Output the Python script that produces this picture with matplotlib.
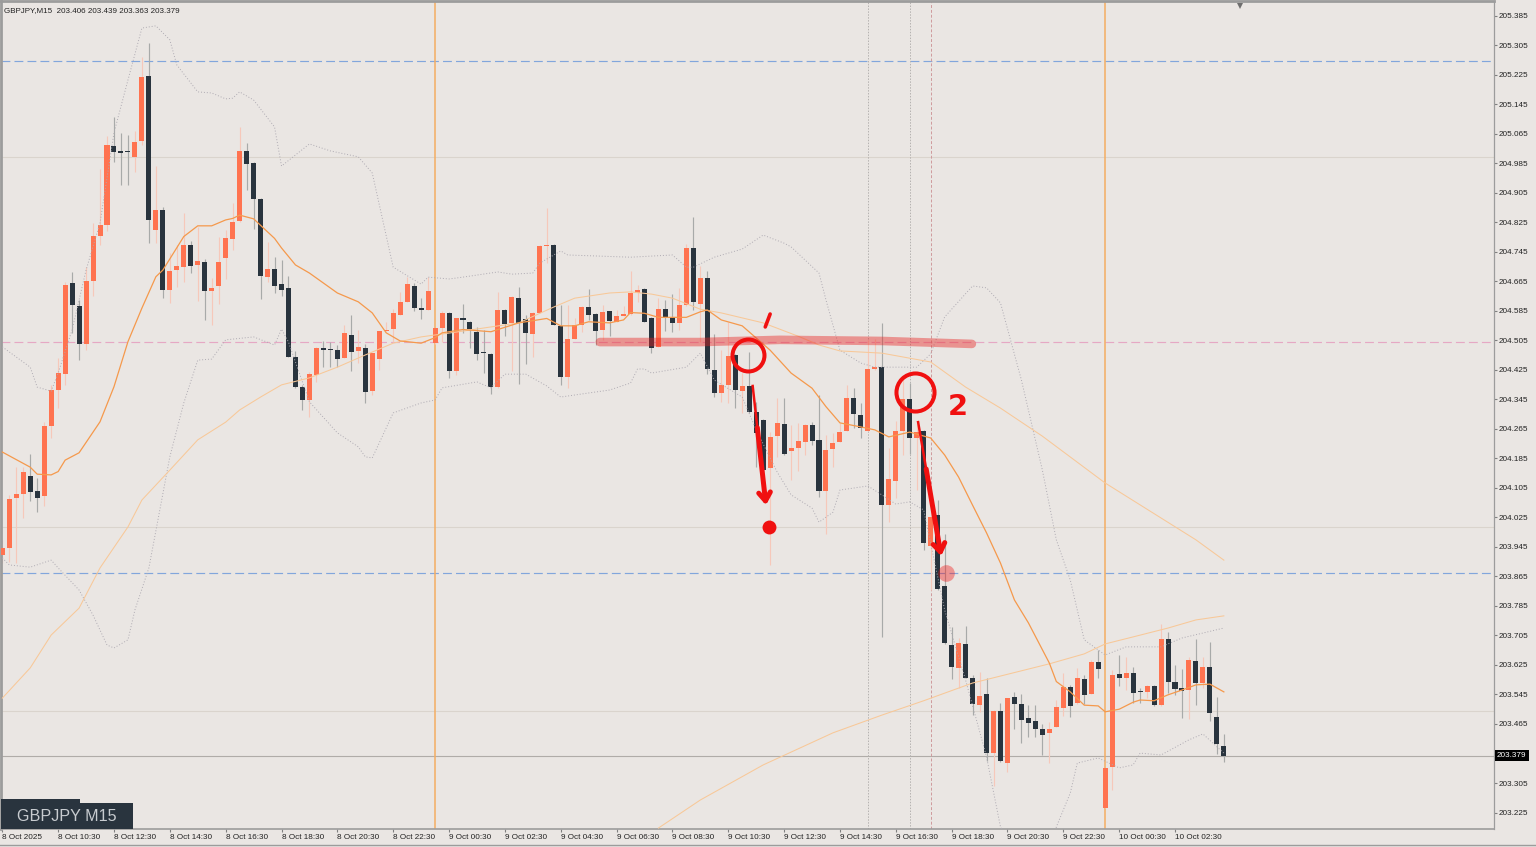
import matplotlib
matplotlib.use('Agg')
import matplotlib.pyplot as plt
from matplotlib.lines import Line2D
from matplotlib.patches import Rectangle

plt.rcParams['font.family'] = ['Liberation Sans', 'DejaVu Sans']

# candles, one entry per 15 minute bar
opens = [
    203.923, 203.941, 204.078, 204.087, 204.138, 204.096, 204.084, 204.273, 204.370, 204.413,
    204.659, 204.599, 204.496, 204.666, 204.788, 204.817, 205.032, 205.017, 205.019, 205.002,
    205.044, 205.220, 204.803, 204.859, 204.641, 204.696, 204.704, 204.763, 204.709, 204.717,
    204.638, 204.653, 204.729, 204.779, 204.829, 205.017, 204.986, 204.889, 204.677, 204.697,
    204.657, 204.646, 204.460, 204.379, 204.343, 204.411, 204.484, 204.480, 204.478, 204.456,
    204.520, 204.476, 204.485, 204.367, 204.453, 204.529, 204.535, 204.573, 204.608, 204.652,
    204.592, 204.587, 204.497, 204.538, 204.580, 204.421, 204.564, 204.554, 204.526, 204.474,
    204.467, 204.377, 204.587, 204.551, 204.619, 204.562, 204.521, 204.580, 204.760, 204.762,
    204.544, 204.406, 204.509, 204.546, 204.596, 204.575, 204.533, 204.583, 204.555, 204.571,
    204.576, 204.634, 204.644, 204.566, 204.487, 204.589, 204.569, 204.552, 204.600, 204.756,
    204.603, 204.674, 204.424, 204.363, 204.384, 204.465, 204.367, 204.382, 204.310, 204.289,
    204.158, 204.245, 204.277, 204.205, 204.212, 204.230, 204.276, 204.235, 204.097, 204.209,
    204.228, 204.260, 204.349, 204.302, 204.260, 204.428, 204.433, 204.058, 204.124, 204.259,
    204.346, 204.239, 204.259, 203.948, 204.031, 203.839, 203.679, 203.618, 203.683, 203.590,
    203.516, 203.547, 203.387, 203.499, 203.360, 203.538, 203.518, 203.482, 203.472, 203.451,
    203.440, 203.457, 203.509, 203.564, 203.521, 203.586, 203.546, 203.633, 203.238, 203.348,
    203.600, 203.590, 203.603, 203.554, 203.552, 203.569, 203.516, 203.695, 203.578, 203.562,
    203.556, 203.635, 203.575, 203.620, 203.485, 203.406,
]
highs = [
    203.964, 204.086, 204.162, 204.162, 204.196, 204.131, 204.284, 204.384, 204.456, 204.664,
    204.691, 204.614, 204.704, 204.822, 204.969, 205.058, 205.111, 205.067, 205.061, 205.072,
    205.272, 205.310, 204.977, 204.865, 204.741, 204.763, 204.849, 204.775, 204.813, 204.724,
    204.674, 204.784, 204.804, 204.876, 205.082, 205.039, 204.989, 204.890, 204.772, 204.730,
    204.722, 204.679, 204.477, 204.384, 204.420, 204.487, 204.504, 204.501, 204.492, 204.546,
    204.573, 204.533, 204.495, 204.471, 204.530, 204.555, 204.589, 204.636, 204.676, 204.659,
    204.619, 204.677, 204.538, 204.584, 204.582, 204.565, 204.603, 204.557, 204.540, 204.533,
    204.470, 204.636, 204.590, 204.625, 204.650, 204.573, 204.582, 204.763, 204.862, 204.766,
    204.600, 204.600, 204.564, 204.598, 204.644, 204.578, 204.600, 204.585, 204.587, 204.598,
    204.693, 204.655, 204.646, 204.568, 204.620, 204.614, 204.629, 204.646, 204.766, 204.840,
    204.707, 204.693, 204.521, 204.478, 204.555, 204.468, 204.415, 204.472, 204.338, 204.292,
    204.257, 204.348, 204.348, 204.275, 204.280, 204.278, 204.284, 204.357, 204.248, 204.253,
    204.281, 204.384, 204.375, 204.334, 204.506, 204.508, 204.552, 204.212, 204.287, 204.411,
    204.390, 204.286, 204.262, 204.045, 204.072, 203.980, 203.727, 203.699, 203.731, 203.598,
    203.607, 203.589, 203.502, 203.521, 203.535, 203.552, 203.545, 203.516, 203.516, 203.465,
    203.471, 203.530, 203.602, 203.571, 203.616, 203.598, 203.638, 203.666, 203.346, 203.611,
    203.652, 203.646, 203.619, 203.562, 203.571, 203.571, 203.736, 203.715, 203.625, 203.613,
    203.647, 203.695, 203.647, 203.686, 203.539, 203.439,
]
lows = [
    203.901, 203.905, 203.901, 204.022, 204.070, 204.039, 204.057, 204.239, 204.322, 204.384,
    204.525, 204.451, 204.478, 204.626, 204.763, 204.801, 204.989, 204.926, 204.926, 204.962,
    205.034, 204.769, 204.768, 204.619, 204.605, 204.648, 204.664, 204.686, 204.612, 204.560,
    204.546, 204.603, 204.670, 204.750, 204.825, 204.912, 204.806, 204.616, 204.662, 204.632,
    204.626, 204.459, 204.376, 204.316, 204.298, 204.393, 204.432, 204.433, 204.432, 204.456,
    204.422, 204.444, 204.336, 204.357, 204.424, 204.529, 204.501, 204.573, 204.608, 204.585,
    204.562, 204.587, 204.496, 204.501, 204.402, 204.411, 204.524, 204.483, 204.451, 204.417,
    204.359, 204.376, 204.517, 204.422, 204.386, 204.440, 204.459, 204.578, 204.713, 204.545,
    204.384, 204.375, 204.508, 204.528, 204.560, 204.492, 204.506, 204.516, 204.554, 204.571,
    204.573, 204.609, 204.554, 204.470, 204.487, 204.530, 204.528, 204.533, 204.599, 204.587,
    204.500, 204.413, 204.352, 204.338, 204.336, 204.321, 204.308, 204.309, 204.162, 204.149,
    203.896, 204.189, 204.195, 204.126, 204.151, 204.194, 204.221, 204.079, 203.980, 204.162,
    204.228, 204.259, 204.266, 204.239, 204.259, 204.424, 203.702, 204.013, 204.077, 204.194,
    204.197, 204.099, 203.937, 203.828, 203.828, 203.682, 203.586, 203.562, 203.590, 203.489,
    203.497, 203.365, 203.298, 203.363, 203.334, 203.451, 203.414, 203.431, 203.431, 203.381,
    203.358, 203.456, 203.487, 203.485, 203.519, 203.519, 203.545, 203.589, 203.237, 203.286,
    203.569, 203.557, 203.521, 203.521, 203.535, 203.515, 203.515, 203.548, 203.543, 203.480,
    203.478, 203.516, 203.562, 203.474, 203.384, 203.363,
]
closes = [
    203.942, 204.074, 204.088, 204.147, 204.094, 204.078, 204.272, 204.369, 204.415, 204.655,
    204.601, 204.496, 204.666, 204.788, 204.818, 205.033, 205.016, 205.013, 205.014, 205.041,
    205.218, 204.831, 204.859, 204.641, 204.693, 204.705, 204.763, 204.706, 204.719, 204.639,
    204.646, 204.716, 204.781, 204.825, 205.019, 204.982, 204.887, 204.679, 204.697, 204.653,
    204.641, 204.460, 204.379, 204.343, 204.413, 204.484, 204.478, 204.478, 204.455, 204.524,
    204.474, 204.487, 204.365, 204.470, 204.530, 204.533, 204.578, 204.608, 204.657, 204.592,
    204.587, 204.639, 204.537, 204.580, 204.421, 204.564, 204.560, 204.535, 204.467, 204.470,
    204.377, 204.587, 204.549, 204.621, 204.552, 204.525, 204.580, 204.761, 204.763, 204.546,
    204.406, 204.508, 204.546, 204.596, 204.574, 204.531, 204.581, 204.556, 204.571, 204.576,
    204.634, 204.641, 204.555, 204.485, 204.589, 204.567, 204.552, 204.600, 204.754, 204.608,
    204.673, 204.428, 204.363, 204.383, 204.462, 204.370, 204.382, 204.310, 204.254, 204.153,
    204.242, 204.280, 204.197, 204.214, 204.233, 204.276, 204.233, 204.097, 204.208, 204.226,
    204.257, 204.349, 204.304, 204.266, 204.426, 204.433, 204.058, 204.128, 204.259, 204.346,
    204.239, 204.257, 203.956, 204.027, 203.831, 203.684, 203.619, 203.684, 203.590, 203.519,
    203.542, 203.387, 203.500, 203.364, 203.535, 203.518, 203.477, 203.468, 203.452, 203.435,
    203.451, 203.510, 203.566, 203.514, 203.590, 203.544, 203.633, 203.615, 203.345, 203.599,
    203.590, 203.602, 203.550, 203.552, 203.569, 203.516, 203.696, 203.578, 203.561, 203.555,
    203.638, 203.575, 203.619, 203.495, 203.410, 203.379,
]

fast_bars = [0, 4, 5, 7, 8, 9, 11, 14, 16, 18, 20, 22, 23, 26, 28, 30, 32, 33, 34, 36, 39, 40, 42, 44,
             48, 51, 53, 55, 57, 59, 60, 62, 63, 66, 70, 74, 78, 80, 82, 84, 87, 89, 90, 92, 94, 98,
             100, 101, 103, 106, 110, 113, 116, 118, 120, 123, 125, 127, 130, 133, 135, 137, 139,
             141, 143, 145, 147, 150, 151, 153, 155, 157, 158, 160, 162, 163, 165, 167, 169, 171, 173, 175]
fast_ma = [204.202, 204.161, 204.142, 204.140, 204.149, 204.180, 204.200, 204.284, 204.379, 204.501,
           204.592, 204.677, 204.695, 204.786, 204.815, 204.815, 204.831, 204.835, 204.844, 204.834,
           204.781, 204.755, 204.709, 204.687, 204.633, 204.609, 204.579, 204.525, 204.503, 204.499,
           204.497, 204.512, 204.525, 204.534, 204.528, 204.552, 204.564, 204.544, 204.544, 204.555,
           204.552, 204.560, 204.580, 204.578, 204.567, 204.567, 204.582, 204.587, 204.560, 204.544,
           204.478, 204.416, 204.375, 204.325, 204.281, 204.270, 204.262, 204.243, 204.256, 204.240,
           204.194, 204.134, 204.058, 203.983, 203.901, 203.801, 203.739, 203.630, 203.580, 203.552,
           203.516, 203.514, 203.498, 203.505, 203.524, 203.530, 203.528, 203.544, 203.557, 203.571,
           203.573, 203.552]

slow_bars = [0, 4, 7, 11, 14, 18, 20, 24, 28, 32, 34, 37, 40, 44, 48, 52, 56, 60, 65, 70, 74, 79, 82, 87,
             90, 93, 96, 100, 103, 109, 114, 117, 120, 126, 133, 138, 143, 149, 158, 171, 175]
slow_ma = [203.535, 203.617, 203.706, 203.779, 203.888, 203.999, 204.072, 204.153, 204.235, 204.283,
           204.316, 204.351, 204.384, 204.403, 204.432, 204.465, 204.497, 204.514, 204.527, 204.541,
           204.552, 204.595, 204.619, 204.633, 204.636, 204.630, 204.619, 204.589, 204.579, 204.552,
           204.516, 204.492, 204.476, 204.470, 204.446, 204.378, 204.321, 204.245, 204.118, 203.964,
           203.909]

long_bars = [94, 100, 109, 119, 126, 132, 139, 150, 155, 158, 162, 167, 171, 175]
long_ma = [203.183, 203.259, 203.354, 203.441, 203.489, 203.528, 203.576, 203.628, 203.655, 203.682,
           203.701, 203.725, 203.747, 203.758]

# bollinger bands
upper_bars = [0, 4, 5, 7, 8, 10, 12, 14, 16, 18, 20, 22, 24, 25, 28, 30, 32, 33, 34, 36, 39, 40, 42, 44,
              47, 51, 53, 56, 60, 61, 64, 66, 71, 73, 76, 77, 80, 81, 90, 96, 98, 99, 102, 106, 109,
              112, 113, 117, 118, 120, 123, 125, 131, 133, 135, 139, 141, 143, 146, 149, 151, 153,
              155, 158, 161, 166, 169, 175]
upper_band = [204.487, 204.432, 204.378, 204.367, 204.416, 204.533, 204.695, 204.823, 205.067, 205.210,
              205.351, 205.357, 205.319, 205.251, 205.178, 205.175, 205.159, 205.161, 205.178, 205.156,
              205.083, 204.977, 205.007, 205.037, 205.018, 205.002, 204.958, 204.703, 204.657, 204.676,
              204.671, 204.676, 204.690, 204.684, 204.687, 204.714, 204.747, 204.736, 204.730, 204.736,
              204.703, 204.703, 204.730, 204.752, 204.790, 204.768, 204.758, 204.687, 204.614, 204.478,
              204.443, 204.432, 204.432, 204.468, 204.568, 204.652, 204.647, 204.606, 204.397, 204.153,
              203.964, 203.855, 203.693, 203.652, 203.674, 203.674, 203.698, 203.725]

lower_bars = [0, 1, 4, 7, 8, 11, 13, 15, 16, 18, 19, 21, 24, 26, 28, 30, 32, 36, 39, 40, 41, 44, 48, 51,
              52, 53, 56, 60, 62, 63, 68, 70, 72, 75, 78, 80, 84, 87, 90, 91, 92, 93, 98, 100, 102,
              106, 108, 111, 113, 116, 117, 119, 120, 124, 126, 128, 130, 132, 135, 138, 141, 143,
              147, 150, 151, 153, 154, 157, 160, 162, 163, 166, 170, 172, 175]
lower_band = [203.915, 203.896, 203.890, 203.909, 203.888, 203.828, 203.760, 203.679, 203.671, 203.693,
              203.774, 203.888, 204.189, 204.335, 204.451, 204.454, 204.506, 204.514, 204.492, 204.535,
              204.500, 204.338, 204.254, 204.216, 204.189, 204.186, 204.308, 204.335, 204.343, 204.376,
              204.392, 204.376, 204.413, 204.413, 204.381, 204.351, 204.362, 204.370, 204.389, 204.427,
              204.427, 204.416, 204.432, 204.470, 204.397, 204.351, 204.262, 204.148, 204.086, 204.050,
              204.012, 204.039, 204.099, 204.110, 204.086, 204.061, 204.067, 204.045, 203.774, 203.584,
              203.376, 203.186, 203.069, 203.069, 203.186, 203.278, 203.359, 203.373, 203.346, 203.354,
              203.386, 203.381, 203.422, 203.438, 203.386]

# axis labels
price_ticks = [205.385, 205.305, 205.225, 205.145, 205.065, 204.985, 204.905, 204.825, 204.745, 204.665,
               204.585, 204.505, 204.425, 204.345, 204.265, 204.185, 204.105, 204.025, 203.945, 203.865,
               203.785, 203.705, 203.625, 203.545, 203.465, 203.305, 203.225]
time_labels = ['8 Oct 2025', '8 Oct 10:30', '8 Oct 12:30', '8 Oct 14:30', '8 Oct 16:30', '8 Oct 18:30',
               '8 Oct 20:30', '8 Oct 22:30', '9 Oct 00:30', '9 Oct 02:30', '9 Oct 04:30', '9 Oct 06:30',
               '9 Oct 08:30', '9 Oct 10:30', '9 Oct 12:30', '9 Oct 14:30', '9 Oct 16:30', '9 Oct 18:30',
               '9 Oct 20:30', '9 Oct 22:30', '10 Oct 00:30', '10 Oct 02:30']

# levels and hand drawn marks
blue_levels = [205.263, 203.875]
grey_levels = [205.002, 204.000, 203.500]
pink_level = 204.500
last_price = 203.379
orange_bars = [62, 158]
dotted_bars = [124, 130]
session_bar = 133

band_bars = [85.6, 100, 111.4, 126, 138.9]
band_prices = [204.500, 204.500, 204.506, 204.503, 204.495]
circle_bars = [106.8, 130.8]
circle_prices = [204.465, 204.365]
circle_sizes = [23, 27.4]
arrow_starts = [(107.5, 204.381), (131.2, 204.283)]
arrow_ends = [(109.4, 204.058), (134.5, 203.920)]

BG = '#eae6e3'
UP = '#ff7350'
DOWN = '#29343e'
RED = '#f01010'
FRAME = '#9c9c9c'

fig = plt.figure(figsize=(15.36, 8.47), dpi=100, facecolor=BG)
ax = fig.add_axes([1 / 1536, 18 / 847, 1493 / 1536, 828 / 847], facecolor=BG)
ax.set_xlim(-0.186, 213.7)
ax.set_ylim(203.1804, 205.4243)

for level in blue_levels:
    ax.axhline(level, color='#82a6dc', lw=0.85, ls=(0, (7.5, 3.5)), zorder=1)
for level in grey_levels:
    ax.axhline(level, color='#dad4cd', lw=0.8, zorder=1)
ax.axhline(pink_level, color='#e6a8c4', lw=0.85, ls=(0, (7.5, 3.5)), zorder=1)
ax.axhline(last_price, color='#b0aca8', lw=0.8, zorder=1)
for bar in orange_bars:
    ax.axvline(bar, color='#f4ad62', lw=1.1, zorder=1)
for bar in dotted_bars:
    ax.axvline(bar, color='#b5b2b0', lw=0.7, ls=(0, (1.5, 1.5)), zorder=1)
ax.axvline(session_bar, color='#cf9a9c', lw=0.7, ls=(0, (3, 2)), zorder=1)

# candles
bars = list(range(len(opens)))
colors = [UP if c >= o else DOWN for o, c in zip(opens, closes)]
wick_colors = ['#f6c8ba' if c >= o else '#a8aaa9' for o, c in zip(opens, closes)]
ax.vlines(bars, lows, highs, colors=wick_colors, lw=0.85, zorder=2)
tops = [max(o, c) for o, c in zip(opens, closes)]
bottoms = [min(o, c) for o, c in zip(opens, closes)]
ax.bar(bars, [t - b for t, b in zip(tops, bottoms)], bottom=bottoms, width=0.72, color=colors, lw=0, zorder=3)

# indicators
ax.plot(upper_bars, upper_band, color='#aeaab2', lw=0.7, ls=(0, (1, 2)), zorder=4)
ax.plot(lower_bars, lower_band, color='#aeaab2', lw=0.7, ls=(0, (1, 2)), zorder=4)
ax.plot(slow_bars, slow_ma, color='#f8c898', lw=0.75, zorder=4)
ax.plot(long_bars, long_ma, color='#f8c898', lw=0.75, zorder=4)
ax.plot(fast_bars, fast_ma, color='#f5994c', lw=0.9, zorder=4)

# hand drawn marks
ax.plot(band_bars, band_prices, color='#e8201f', alpha=0.42, lw=6.2, solid_capstyle='round', zorder=5)
for bar, price, size in zip(circle_bars, circle_prices, circle_sizes):
    ax.plot(bar, price, 'o', mfc='none', mec=RED, mew=2.9, ms=size, zorder=6)
for start, end in zip(arrow_starts, arrow_ends):
    # the stroke starts thin and gets thicker towards the head
    middle = (start[0] + 0.35 * (end[0] - start[0]), start[1] + 0.35 * (end[1] - start[1]))
    ax.plot([start[0], middle[0]], [start[1], middle[1]], color=RED, lw=1.8, zorder=6)
    ax.annotate('', xy=end, xytext=middle, zorder=6,
                arrowprops=dict(arrowstyle='->,head_length=0.6,head_width=0.42', color=RED, lw=3.6,
                                shrinkA=0, shrinkB=0))
ax.plot([109.3, 110.0], [204.541, 204.576], color=RED, lw=2.6, solid_capstyle='round', zorder=6)
ax.plot(109.8, 204.000, 'o', color=RED, ms=10, mew=0, zorder=6)
ax.plot(135.2, 203.874, 'o', color=RED, alpha=0.38, ms=12, mew=0, zorder=6)
ax.text(135.4, 204.325, '2', color=RED, fontsize=21, fontweight='bold', family='DejaVu Sans',
        ha='left', va='center', zorder=6)

# axes
ax.yaxis.tick_right()
ax.set_yticks(price_ticks)
ax.set_yticklabels(['%.3f' % p for p in price_ticks], fontsize=5.9, color='#222222')
ax.tick_params(axis='y', length=2.5, width=0.8, color='#808080', pad=1)
ax.set_xticks(list(range(0, 176, 8)))
ax.set_xticklabels(time_labels, fontsize=5.9, color='#222222', ha='left')
ax.tick_params(axis='x', length=2, width=0.8, color='#808080', pad=1.5)
for side, width in [('left', 2), ('top', 2), ('bottom', 1.2), ('right', 0.9)]:
    ax.spines[side].set_color(FRAME)
    ax.spines[side].set_linewidth(width)
fig.add_artist(Line2D([0, 1], [2 / 847, 2 / 847], color=FRAME, lw=1))

ax.text(1497, 847 - 755.6, '%.3f' % last_price, transform=None, fontsize=5.9, color='white', va='center',
        ha='left', zorder=10, bbox=dict(boxstyle='square,pad=0.25', fc='black', ec='none'), clip_on=False)
ax.text(0.002, 0.9925, 'GBPJPY,M15  203.406 203.439 203.363 203.379', transform=ax.transAxes,
        fontsize=5.8, color='#222222', va='top', ha='left')

# symbol box, bottom left
ax.add_patch(Rectangle((0, 0), 132 / 1493, 26 / 828, transform=ax.transAxes, fc=DOWN, ec='none', zorder=8))
ax.add_patch(Rectangle((0, 26 / 828), 79 / 1493, 4 / 828, transform=ax.transAxes, fc=DOWN, ec='none', zorder=8))
ax.text(66 / 1493, 13 / 828, 'GBPJPY M15', transform=ax.transAxes, fontsize=11.6, color='#c8ccd0',
        ha='center', va='center', zorder=9)

# small marker at the top of the chart
ax.plot(177.3, 205.412, 'v', color='#6f6f6f', ms=5, mew=0, clip_on=False, zorder=7)

fig.savefig('out.png', dpi=100, facecolor=BG)
